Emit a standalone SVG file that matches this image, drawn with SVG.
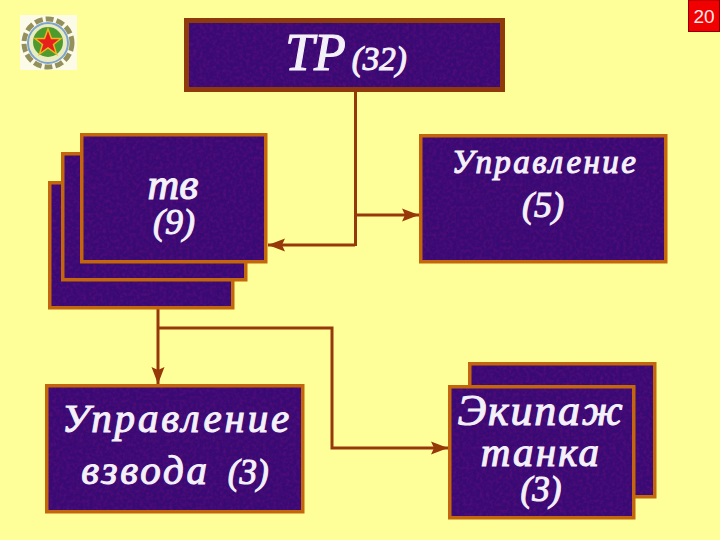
<svg xmlns="http://www.w3.org/2000/svg" width="720" height="540" viewBox="0 0 720 540">
<style>
.box{fill:#380a74;filter:url(#tex)}
.b1{fill:none;stroke:#c4660c;stroke-width:3.5}
.b2{fill:none;stroke:#8f3a0c;stroke-width:5}
text{font-family:"Liberation Serif",serif;font-style:italic;font-weight:normal;fill:#f4f0f8;stroke:#f4f0f8;stroke-width:1.100;text-anchor:middle}
.l{fill:none;stroke:#96380a;stroke-width:3}
.a{fill:none;stroke:#96380a;stroke-width:3;marker-end:url(#arr)}
</style>
<defs>
<filter id="tex" x="0" y="0" width="100%" height="100%" color-interpolation-filters="sRGB">
<feTurbulence type="fractalNoise" baseFrequency="0.3" numOctaves="3" seed="4" result="n"/>
<feColorMatrix in="n" type="matrix" values="0 0 0 0 0.36  0 0 0 0 0.05  0 0 0 0 0.48  1.6 0 0 0 -0.6" result="c"/>
<feComposite in="c" in2="SourceGraphic" operator="in" result="d"/>
<feMerge><feMergeNode in="SourceGraphic"/><feMergeNode in="d"/></feMerge>
</filter>
<marker id="arr" markerUnits="userSpaceOnUse" markerWidth="18" markerHeight="16" refX="17" refY="8" orient="auto">
<path d="M0 1.500L17 8L0 14.500L3 8Z" fill="#96380a"/>
</marker>
</defs>
<rect width="720" height="540" fill="#ffff99"/>

<g id="logo">
<rect x="20" y="15" width="57" height="55" fill="#fbfbe8"/>
<circle cx="48" cy="43" r="24" fill="none" stroke="#94905c" stroke-width="5" stroke-dasharray="8 3"/>
<circle cx="48" cy="43" r="20" fill="#e8ecc0" stroke="#7fa2cc" stroke-width="2"/>
<circle cx="48" cy="42" r="15" fill="#4f9a2c"/>
<path d="M48 29L51.500 38.500L61 38.500L53.500 44.500L56.500 54L48 48L39.500 54L42.500 44.500L35 38.500L44.500 38.500Z" fill="#e8201c" stroke="#e8b820" stroke-width="1.500"/>
</g>

<g id="page-number">
<rect x="688.500" y="0" width="31" height="31.500" fill="#f00000" stroke="#900000"/>
<text x="704" y="23" style="font-family:'Liberation Sans',sans-serif;font-style:normal;font-size:19px;fill:#ffe8e8;stroke:none">20</text>
</g>

<g id="connectors">
<path class="l" d="M355.500 92V246"/>
<path class="a" d="M355 215H419"/>
<path class="a" d="M355 245H268"/>
<path class="a" d="M158 309V384"/>
<path class="a" d="M158 328H332V448H448"/>
</g>

<g id="node-tr">
<rect class="box" x="186" y="20" width="317" height="70"/>
<rect class="b2" x="186.500" y="20.500" width="316" height="69"/>
<text x="346" y="70"><tspan font-size="52">ТР</tspan><tspan font-size="33" dx="6">(32)</tspan></text>
</g>

<g id="node-tv-back-2">
<rect class="box" x="50" y="183" width="182" height="124"/>
<rect class="b1" x="49.750" y="182.750" width="183" height="125"/>
</g>
<g id="node-tv-back-1">
<rect class="box" x="63" y="154" width="182" height="125"/>
<rect class="b1" x="62.750" y="153.750" width="183" height="126"/>
</g>
<g id="node-tv">
<rect class="box" x="82" y="135" width="183" height="126"/>
<rect class="b1" x="81.750" y="134.750" width="184" height="127"/>
<text x="173" y="199" font-size="44">тв</text>
<text x="174" y="234" font-size="36">(9)</text>
</g>

<g id="node-upr">
<rect class="box" x="421" y="136" width="244" height="125"/>
<rect class="b1" x="420.750" y="135.750" width="245" height="126"/>
<text x="545" y="173" font-size="33" letter-spacing="2.400">Управление</text>
<text x="543" y="217" font-size="36">(5)</text>
</g>

<g id="node-vzvod">
<rect class="box" x="47" y="386" width="255" height="125"/>
<rect class="b1" x="46.750" y="385.750" width="256" height="126"/>
<text x="177" y="432" font-size="41" letter-spacing="2.800">Управление</text>
<text x="175" y="484"><tspan font-size="41" letter-spacing="2.800">взвода</tspan><tspan font-size="35" dx="18">(3)</tspan></text>
</g>

<g id="node-crew-back">
<rect class="box" x="470" y="364" width="184" height="132"/>
<rect class="b1" x="469.750" y="363.750" width="185" height="133"/>
</g>
<g id="node-crew">
<rect class="box" x="450" y="387" width="183" height="130"/>
<rect class="b1" x="449.750" y="386.750" width="184" height="131"/>
<text x="541" y="425" font-size="44" letter-spacing="1.800">Экипаж</text>
<text x="541" y="466" font-size="41" letter-spacing="2.200">танка</text>
<text x="541" y="501" font-size="35">(3)</text>
</g>
</svg>
